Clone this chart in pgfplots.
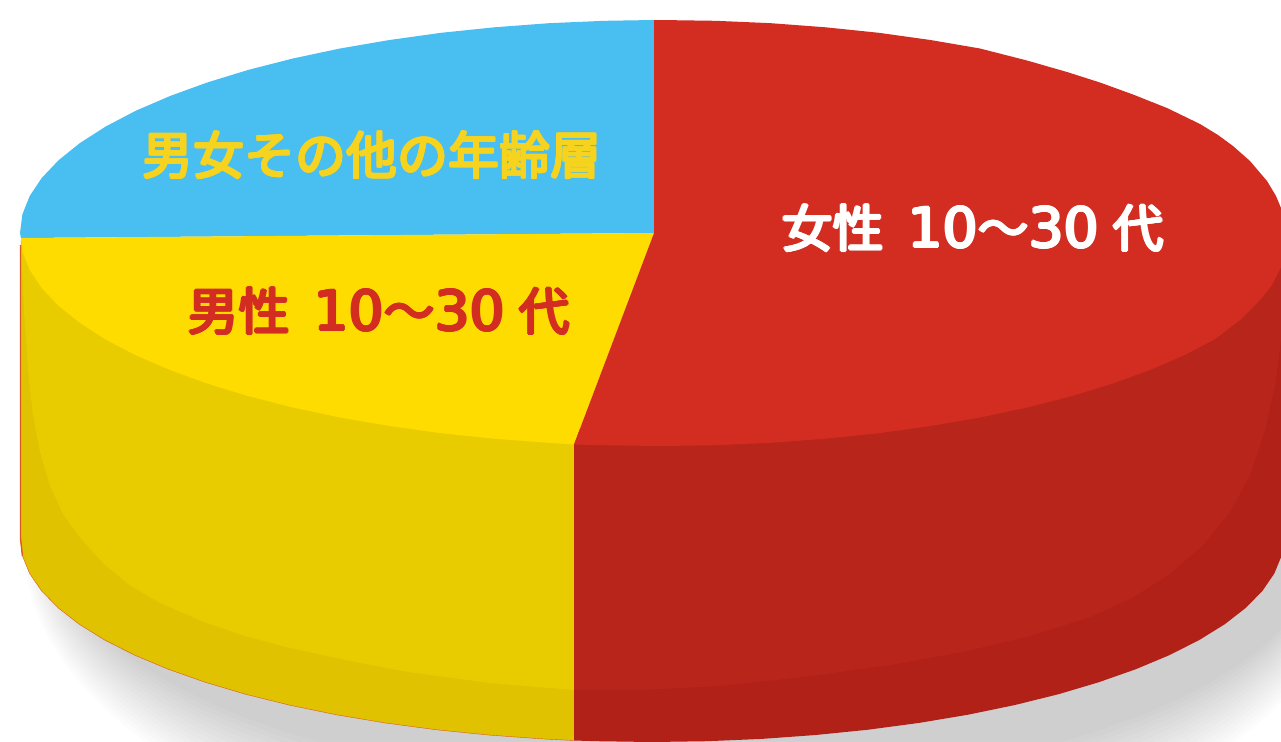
\documentclass[border=0pt]{standalone}
\usepackage{fontspec}
\usepackage{pgfplots}
\usepackage{pgfplotstable}
\pgfplotsset{compat=1.18}
\newfontfamily\cjk{Noto Sans CJK JP}
\newfontfamily\digits{DejaVu Sans}

\definecolor{skyc}{HTML}{49BEF0}
\definecolor{yeltop}{HTML}{FFDC00}
\definecolor{redtop}{HTML}{D32D22}
\definecolor{yelwall}{HTML}{E8CC00}
\definecolor{yeldark}{HTML}{E0C200}
\definecolor{redwall}{HTML}{B8251B}
\definecolor{reddark}{HTML}{B22118}
\definecolor{yeltext}{HTML}{F6D31E}
\definecolor{edgec}{HTML}{DA5A20}

% lower rim of the disc, used for the shadow layers
\pgfplotstableread{
x y
1284 538
1281.6 555.8
1274.4 573.4
1262.5 590.8
1245.9 607.8
1224.8 624.2
1199.3 640
1169.7 655
1136.1 669.1
1098.9 682.2
1058.2 694.3
1014.5 705.1
968 714.7
919.1 722.9
868.1 729.7
815.6 735
761.7 738.9
707.1 741.2
652 742
596.9 741.2
542.3 738.9
488.4 735
435.9 729.7
384.9 722.9
336 714.7
289.5 705.1
245.8 694.3
205.1 682.2
167.9 669.1
134.3 655
104.7 640
79.2 624.2
58.1 607.8
41.5 590.8
29.6 573.4
22.4 555.8
20 538
}\rimtable

\newcommand{\lab}[1]{\fontsize{25.5}{25.5}\selectfont\cjk #1}
\newcommand{\num}[1]{{\fontsize{27.5}{27.5}\selectfont\digits #1}}
% the labels are a rounded heavy face: regular weight set several times
\newcommand{\fat}[4]{%
  \node[text=#1, inner sep=0pt, xshift=.6pt] at (axis cs:#2,#3) {\lab{#4}};
  \node[text=#1, inner sep=0pt, xshift=-.6pt] at (axis cs:#2,#3) {\lab{#4}};
  \node[text=#1, inner sep=0pt, yshift=.6pt] at (axis cs:#2,#3) {\lab{#4}};
  \node[text=#1, inner sep=0pt, yshift=-.6pt] at (axis cs:#2,#3) {\lab{#4}};
  \node[text=#1, inner sep=0pt, xshift=.42pt, yshift=.42pt] at (axis cs:#2,#3) {\lab{#4}};
  \node[text=#1, inner sep=0pt, xshift=-.42pt, yshift=-.42pt] at (axis cs:#2,#3) {\lab{#4}};
  \node[text=#1, inner sep=0pt, xshift=.42pt, yshift=-.42pt] at (axis cs:#2,#3) {\lab{#4}};
  \node[text=#1, inner sep=0pt, xshift=-.42pt, yshift=.42pt] at (axis cs:#2,#3) {\lab{#4}};
}

\begin{document}
\begin{tikzpicture}
\begin{axis}[
    scale only axis, width=640.5pt, height=370.5pt,
    xmin=0, xmax=1281, ymin=0, ymax=741,
    y dir=reverse, hide axis,
]
% page background, keeps the full frame
\addplot[fill=white, draw=none] coordinates {(0,0)(1281,0)(1281,741)(0,741)};
% blurred shadow, stacked thin layers
\pgfplotsinvokeforeach{0,...,15}{
\addplot[fill=black, draw=none, fill opacity=0.0135]
    table[x expr={690+(\thisrow{x}-652)*(667-37*#1/15)/632},
          y expr={545+(\thisrow{y}-538)*(342-98*#1/15)/204}] {\rimtable};
}
% walls, dark outer band
\addplot[fill=yeldark, draw=none] coordinates {
(574,430)(21,240)(20,538)(22.4,555.8)(29.6,573.4)(41.5,590.8)(58.1,607.8)(79.2,624.2)(104.7,640)(134.3,655)(167.9,669.1)(205.1,682.2)(245.8,694.3)(289.5,705.1)(336,714.7)(384.9,722.9)(435.9,729.7)(488.4,735)(542.3,738.9)(574,740.5)
};
\addplot[fill=reddark, draw=none] coordinates {
(574,430)(1288,240)(1290,400)(1284,538)(1281.6,555.8)(1274.4,573.4)(1262.5,590.8)(1245.9,607.8)(1224.8,624.2)(1199.3,640)(1169.7,655)(1136.1,669.1)(1098.9,682.2)(1058.2,694.3)(1014.5,705.1)(968,714.7)(919.1,722.9)(868.1,729.7)(815.6,735)(761.7,738.9)(707.1,741.2)(652,742)(596.9,741.2)(574,740.5)
};
% walls, main tone
\addplot[fill=yelwall, draw=none] coordinates {
(574,430)(21,250)(24,310)(28,370)(33,415)(40,452)(50,486)(64,516)(82,540)(103,563)(128,584)(160,603)(204,622)(245,636)(286,647)(350,661)(408,672)(490,683)(574,690)
};
\addplot[fill=redwall, draw=none] coordinates {
(574,430)(1281,255)(1281,340)(1275,385)(1265,430)(1250,475)(1230,512)(1203,545)(1171,573)(1132,598)(1090,617)(1030,636)(967,651)(890,665)(803,677)(720,686)(640,690)(574,690)
};
% thin edge of the wall
\addplot[color=edgec, line width=0.7pt] coordinates {(20.5,245)(20.5,538)(22.4,555.8)};
\addplot[color=edgec, line width=0.2pt] coordinates {
(22.4,555.8)(29.6,573.4)(41.5,590.8)(58.1,607.8)(79.2,624.2)(104.7,640)(134.3,655)(167.9,669.1)(205.1,682.2)(245.8,694.3)(289.5,705.1)(336,714.7)(384.9,722.9)(435.9,729.7)(488.4,735)(542.3,738.9)(574,740.5)
};
% top face, three sectors
\addplot[fill=skyc, draw=none] coordinates {
(654,233)(21,238)(20,233)(22.4,214.4)(29.7,196)(41.8,177.9)(58.6,160.2)(80,143)(105.7,126.5)(135.7,110.8)(169.8,96.1)(207.5,82.4)(248.6,69.8)(292.9,58.5)(340,48.5)(389.5,40)(441.1,32.8)(494.4,27.3)(548.9,23.2)(604.2,20.8)(654,20)
};
\addplot[fill=yeltop, draw=none] coordinates {
(654,233)(574,444.5)(548.9,442.8)(494.4,438.7)(441.1,433.2)(389.5,426)(340,417.5)(292.9,407.5)(248.6,396.2)(207.5,383.6)(169.8,369.9)(135.7,355.2)(105.7,339.5)(80,323)(58.6,305.8)(41.8,288.1)(29.7,270)(22.4,251.6)(21,238)
};
\addplot[fill=redtop, draw=none] coordinates {
(654,20)(660,20)(715.8,20.8)(771.1,23.2)(825.6,27.3)(878.9,32.8)(930.5,40)(980,48.5)(1027,60.5)(1067,72)(1100,82.5)(1133,94.5)(1167,108)(1200,124)(1218,135)(1233,146)(1250,161)(1267,181)(1276,196)(1281,208)(1286,225)(1288,240)(1286,255)(1281,267)(1272,285)(1260,300)(1240,320)(1214.3,339.5)(1184.3,355.2)(1150.2,369.9)(1112.5,383.6)(1071.4,396.2)(1027.1,407.5)(980,417.5)(930.5,426)(878.9,433.2)(825.6,438.7)(771.1,442.8)(715.8,445.2)(660,446)(604.2,445.2)(574,444.5)(654,233)
};
% labels
\fat{yeltext}{372}{155}{男女その他の年齢層}
\fat{white}{973}{228}{女性\hspace{12pt}\num{10}～\num{30}\hspace{7pt}代}
\fat{redtop}{379}{311}{男性\hspace{12pt}\num{10}～\num{30}\hspace{7pt}代}
\end{axis}
\end{tikzpicture}
\end{document}
